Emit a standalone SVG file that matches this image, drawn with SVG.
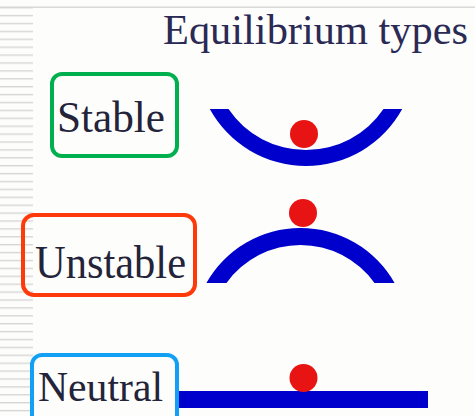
<svg xmlns="http://www.w3.org/2000/svg" width="475" height="416" viewBox="0 0 475 416">
  <defs>
    <pattern id="stripes" x="0" y="7" width="33" height="7.9" patternUnits="userSpaceOnUse">
      <rect x="0" y="0" width="33" height="1.4" fill="#d6d6d6"/>
    </pattern>
  </defs>
  <style>
    .lbl { font-family: "Liberation Serif", "Times New Roman", serif; fill: #23233a; }
    .title { font-family: "Liberation Serif", "Times New Roman", serif; fill: #2a2a55; }
    .box { fill: none; stroke-width: 4; }
    .shape { fill: #0000cc; }
    .ball { fill: #e81414; }
  </style>
  <rect x="0" y="0" width="475" height="416" fill="#fdfdfb"/>
  <rect x="0" y="7" width="33" height="409" fill="url(#stripes)"/>
  <rect x="0" y="6.5" width="475" height="1.4" fill="#d6d6d6"/>

  <g id="title">
    <text class="title" x="163" y="44" font-size="42" textLength="305" lengthAdjust="spacingAndGlyphs">Equilibrium types</text>
  </g>

  <g id="stable">
    <rect class="box" x="52" y="74" width="125" height="82" rx="10" stroke="#00b04f"/>
    <text class="lbl" x="57" y="132" font-size="44" textLength="108" lengthAdjust="spacingAndGlyphs">Stable</text>
  </g>
  <g id="stable-shape">
    <path class="shape" d="M209.8,109 A109.7,109.7 0 0 0 402.2,109 L383.5,109 A93.7,93.7 0 0 1 228.5,109 Z"/>
    <circle class="ball" cx="304" cy="134" r="14"/>
  </g>

  <g id="unstable">
    <rect class="box" x="23" y="215" width="172" height="80" rx="11" stroke="#ff3a0a"/>
    <text class="lbl" x="35" y="278" font-size="46" textLength="151" lengthAdjust="spacingAndGlyphs">Unstable</text>
  </g>
  <g id="unstable-shape">
    <path class="shape" d="M206.4,283 A108,108 0 0 1 394.6,283 L374.5,283 A91,91 0 0 0 226.5,283 Z"/>
    <circle class="ball" cx="303" cy="213" r="14"/>
  </g>

  <g id="neutral">
    <rect class="box" x="32" y="355" width="145" height="70" rx="10" stroke="#12a0f5"/>
    <text class="lbl" x="38" y="401" font-size="43" textLength="125" lengthAdjust="spacingAndGlyphs">Neutral</text>
  </g>
  <g id="neutral-shape">
    <rect class="shape" x="179" y="391" width="249" height="17"/>
    <circle class="ball" cx="303.5" cy="378" r="14"/>
  </g>
</svg>
